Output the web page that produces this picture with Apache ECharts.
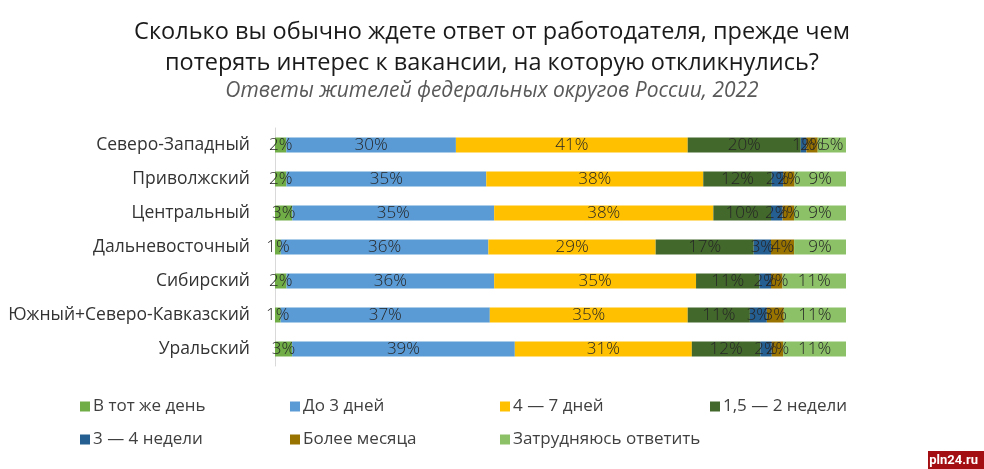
<!DOCTYPE html>
<html>
<head>
<meta charset="utf-8">
<script src="https://cdn.jsdelivr.net/npm/echarts@6/dist/echarts.min.js"></script>
<style>html,body{margin:0;padding:0;background:#fff;}#c{width:984px;height:469px;}</style>
</head>
<body>
<div id="c"></div>
<script>
const categories = ["Северо-Западный","Приволжский","Центральный","Дальневосточный","Сибирский","Южный+Северо-Кавказский","Уральский"];
const seriesNames = ["В тот же день","До 3 дней","4 — 7 дней","1,5 — 2 недели","3 — 4 недели","Более месяца","Затрудняюсь ответить"];
const sameDay    = [2, 2, 3, 1, 2, 1, 3];
const upTo3Days  = [30, 35, 35, 36, 36, 37, 39];
const days4to7   = [41, 38, 38, 29, 35, 35, 31];
const weeks15to2 = [20, 12, 10, 17, 11, 11, 12];
const weeks3to4  = [1, 2, 2, 3, 2, 3, 2];
const overMonth  = [2, 2, 2, 4, 2, 3, 2];
const hardToSay  = [5, 9, 9, 9, 11, 11, 11];
const colors = ["#70ad47","#5b9bd5","#ffc000","#43682b","#255e91","#997300","#8cc168"];

const allSeries = [sameDay, upTo3Days, days4to7, weeks15to2, weeks3to4, overMonth, hardToSay];
const totals = categories.map((_, i) => allSeries.reduce((s, arr) => s + arr[i], 0));
const FONT = "'Open Sans', Roboto, sans-serif";
const LFONT = "'Open Sans', Roboto, sans-serif";

const series = allSeries.map((arr, k) => ({
  name: seriesNames[k],
  type: 'bar',
  stack: 'total',
  barWidth: 15,
  itemStyle: { color: colors[k] },
  label: {
    show: true,
    position: 'inside',
    color: '#262626',
    fontFamily: LFONT,
    fontWeight: 300,
    fontSize: 17,
    formatter: p => arr[p.dataIndex] + '%'
  },
  data: arr.map((v, i) => v / totals[i] * 100)
}));

const legendPos = [[80,398],[290,398],[500,398],[710,398],[80,431],[290,431],[500,431]];
const legends = seriesNames.map((n, k) => ({
  data: [n],
  left: legendPos[k][0],
  top: legendPos[k][1],
  padding: 0,
  itemWidth: 10, itemHeight: 10, itemGap: 0,
  icon: 'rect',
  textStyle: { fontSize: 17, color: '#404040', fontFamily: LFONT, padding: [0,0,0,-2] },
  selectedMode: false
}));

const chart = echarts.init(document.getElementById('c'));
chart.setOption({
  animation: false,
  backgroundColor: '#fff',
  title: [
    { text: 'Сколько вы обычно ждете ответ от работодателя, прежде чем\nпотерять интерес к вакансии, на которую откликнулись?',
      left: 'center', top: 12,
      textStyle: { fontFamily: FONT, fontSize: 23.5, fontWeight: 'normal', color: '#1a1a1a', lineHeight: 31, align: 'center' } },
    { text: 'Ответы жителей федеральных округов России, 2022',
      left: 'center', top: 76,
      textStyle: { fontFamily: FONT, fontSize: 21, fontStyle: 'italic', fontWeight: 'normal', color: '#595959' } }
  ],
  legend: legends,
  grid: { left: 275, right: 138, top: 128, bottom: 103 },
  xAxis: { type: 'value', min: 0, max: 100, show: false },
  yAxis: {
    type: 'category', data: categories, inverse: true,
    axisLine: { show: true, lineStyle: { color: '#d9d9d9', width: 1 } },
    axisTick: { show: false },
    axisLabel: { fontSize: 17.5, color: '#333', fontFamily: LFONT, margin: 25 }
  },
  series: series,
  graphic: [
    { type: 'rect', right: 0, bottom: 0, shape: { width: 56, height: 18 }, style: { fill: '#a30e12' } },
    { type: 'text', right: 6, bottom: 2, style: { text: 'pln24.ru', fill: '#fff', font: 'bold 13px Roboto, sans-serif' } }
  ]
});
</script>
</body>
</html>
